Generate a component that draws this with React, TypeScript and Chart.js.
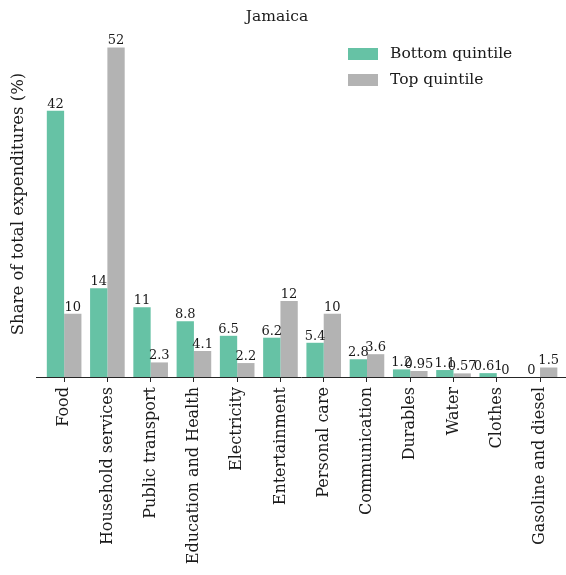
import React, { useEffect, useRef } from "react";
import { Chart, registerables } from "chart.js";

Chart.register(...registerables);

const categories = [
  "Food",
  "Household services",
  "Public transport",
  "Education and Health",
  "Electricity",
  "Entertainment",
  "Personal care",
  "Communication",
  "Durables",
  "Water",
  "Clothes",
  "Gasoline and diesel",
];
const bottomQuintile = [42, 14, 11, 8.8, 6.5, 6.2, 5.4, 2.8, 1.2, 1.1, 0.61, 0];
const topQuintile = [10, 52, 2.3, 4.1, 2.2, 12, 10, 3.6, 0.95, 0.57, 0, 1.5];
const seriesNames = ["Bottom quintile", "Top quintile"];
const seriesColors = ["#66c2a5", "#b3b3b3"];
const titleText = "Jamaica";
const yLabel = "Share of total expenditures (%)";

const FONT = "'DejaVu Serif', serif";

const overlayPlugin = {
  id: "overlay",
  afterDatasetsDraw(chart: any) {
    const ctx = chart.ctx;
    ctx.save();
    // value labels
    ctx.font = `13px ${FONT}`;
    ctx.fillStyle = "#1a1a1a";
    ctx.textAlign = "center";
    ctx.textBaseline = "alphabetic";
    chart.data.datasets.forEach((ds: any, di: number) => {
      const meta = chart.getDatasetMeta(di);
      meta.data.forEach((el: any, i: number) => {
        const v = ds.data[i].y;
        ctx.fillText(String(v), el.x, el.y - 3);
      });
    });
    // title
    ctx.font = `15.5px ${FONT}`;
    ctx.fillStyle = "#1a1a1a";
    ctx.textAlign = "center";
    ctx.textBaseline = "middle";
    ctx.fillText(titleText, 277, 17);
    // legend
    ctx.textAlign = "left";
    ctx.font = `15.5px ${FONT}`;
    seriesNames.forEach((name, i) => {
      const y = 48 + i * 26;
      ctx.fillStyle = seriesColors[i];
      ctx.fillRect(348, y, 30, 12);
      ctx.fillStyle = "#1a1a1a";
      ctx.fillText(name, 390, y + 6);
    });
    ctx.restore();
  },
};

export default function App() {
  const ref = useRef<HTMLCanvasElement>(null);
  useEffect(() => {
    if (!ref.current) return;
    const chart = new Chart(ref.current, {
      type: "bar",
      data: {
        datasets: [
          {
            label: seriesNames[0],
            data: bottomQuintile.map((v, i) => ({ x: i, y: v })),
            backgroundColor: seriesColors[0],
            borderWidth: 0,
          },
          {
            label: seriesNames[1],
            data: topQuintile.map((v, i) => ({ x: i, y: v })),
            backgroundColor: seriesColors[1],
            borderWidth: 0,
          },
        ],
      },
      options: {
        responsive: false,
        animation: false,
        layout: { padding: { top: 31, left: 0, right: 0, bottom: 0 } },
        datasets: { bar: { categoryPercentage: 0.8, barPercentage: 1 } },
        plugins: {
          legend: { display: false },
          title: { display: false },
          tooltip: { enabled: false },
        },
        scales: {
          x: {
            type: "linear",
            min: -0.65,
            max: 11.6,
            offset: false,
            afterBuildTicks: (scale: any) => {
              scale.ticks = categories.map((_, i) => ({ value: i }));
            },
            afterFit: (scale: any) => {
              scale.height = 198;
            },
            grid: {
              display: true,
              offset: false,
              drawOnChartArea: false,
              drawTicks: true,
              tickLength: 5,
              color: "#262626",
            },
            border: { display: true, color: "#262626", width: 1 },
            ticks: {
              autoSkip: false,
              minRotation: 90,
              maxRotation: 90,
              padding: 5,
              color: "#1a1a1a",
              font: { family: FONT, size: 16 },
              callback: (value: any) =>
                Number.isInteger(value) ? categories[value] : "",
            },
          },
          y: {
            min: 0,
            max: 54.6,
            afterFit: (scale: any) => {
              scale.width = 36;
            },
            grid: { display: false },
            border: { display: false },
            ticks: { display: false },
            title: {
              display: true,
              text: yLabel,
              color: "#1a1a1a",
              font: { family: FONT, size: 16.5 },
              padding: { top: 9, bottom: 0 },
            },
          },
        },
      },
      plugins: [overlayPlugin],
    } as any);
    return () => chart.destroy();
  }, []);
  return (
    <div style={{ position: "fixed", left: 0, top: 0, width: 566, height: 575, background: "#fff" }}>
      <canvas ref={ref} width={566} height={575} style={{ display: "block" }} />
    </div>
  );
}
